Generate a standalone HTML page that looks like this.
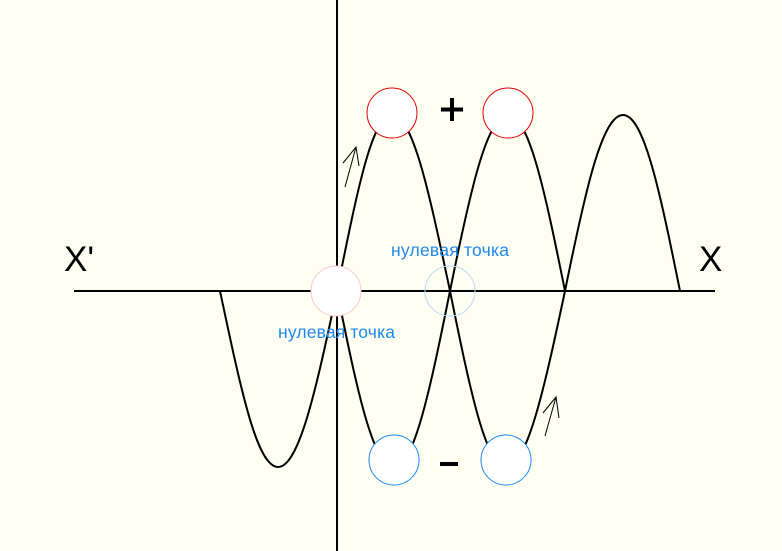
<!DOCTYPE html>
<html><head><meta charset="utf-8"><style>
html,body{margin:0;padding:0;background:#fefef2;}
svg{display:block;}
</style></head><body>
<svg width="782" height="551" viewBox="0 0 782 551" xmlns="http://www.w3.org/2000/svg">
<rect width="782" height="551" fill="#fefef2"/>
<line x1="74" y1="291" x2="715" y2="291" stroke="#000" stroke-width="2"/>
<line x1="337" y1="0" x2="337" y2="551" stroke="#000" stroke-width="2"/>
<g fill="none" stroke="#000" stroke-width="2">
<path d="M220 291 C241 390,257 467,278 467 C299 467,316 390,337 291 C357 192,372 115,392 115 C413 115,429 192,450 291 C470 390,486 467,506 467 C527 467,544 390,565 291 C585 192,602 115,623 115 C644 115,660 192,680 291"/>
<path d="M337 291 C357 390,373 467,394 467 C414 467,430 390,450 291 C470 192,487 115,508 115 C529 115,545 192,565 291"/>
</g>
<g fill="none" stroke="#000" stroke-width="1">
<path d="M345 187 L356 147 M343 163 L356 147 L359 166"/>
<path d="M545 436 L556 397 M543 413 L556 397 L559 418"/>
</g>
<g fill="#fff" stroke-width="1">
<circle cx="392" cy="113" r="25" stroke="#e00000"/>
<circle cx="508" cy="113" r="25" stroke="#e00000"/>
<circle cx="336" cy="291" r="25" stroke="#f8c8c8"/>
<circle cx="450" cy="291" r="25" stroke="#b8d8f8" fill="none"/>
<circle cx="394" cy="460" r="25" stroke="#1e88f0"/>
<circle cx="506" cy="460" r="25" stroke="#1e88f0"/>
</g>
<rect x="441" y="107.5" width="22" height="4" fill="#000"/>
<rect x="450" y="98" width="4" height="23" fill="#000"/>
<rect x="440" y="462" width="18" height="4" fill="#000"/>
<g font-family="Liberation Sans, sans-serif">
<text x="64" y="271" font-size="35">X'</text>
<text x="699" y="271" font-size="35">X</text>
<text x="391" y="256" font-size="17.5" fill="#1e88f0" textLength="118">нулевая точка</text>
<text x="278" y="338" font-size="17.5" fill="#1e88f0" textLength="117">нулевая точка</text>
</g>
</svg>
</body></html>
